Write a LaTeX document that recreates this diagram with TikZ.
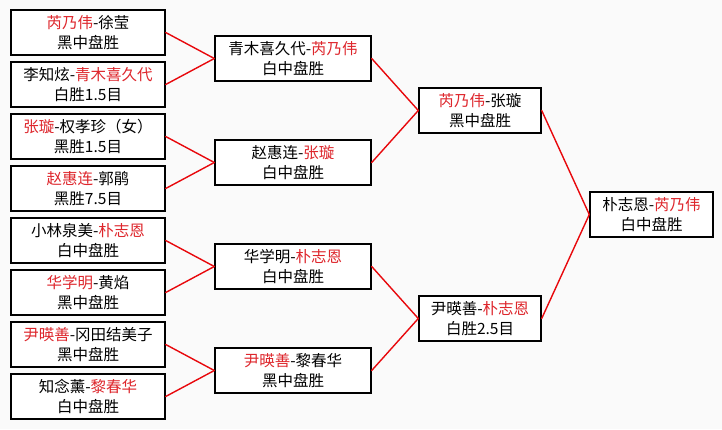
\documentclass[tikz,border=0pt]{standalone}
\usepackage{fontspec}
\setmainfont{Noto Sans CJK SC}
\usepackage{xcolor}
\usepackage{tikz}
\usetikzlibrary{calc}
\definecolor{winred}{RGB}{222,38,44}
\definecolor{linkred}{RGB}{232,8,12}
\definecolor{paper}{RGB}{250,250,250}
\newcommand{\win}[1]{\textcolor{winred}{#1}}

\begin{document}
\begin{tikzpicture}[x=1pt,y=-1pt,line cap=round,
  match/.style={draw=black,line width=1.4pt,fill=white,minimum height=45pt,
    align=center,inner sep=0pt,font=\fontsize{15.5}{20}\selectfont},
  link/.style={draw=linkred,line width=1.4pt}]
  \pgfmathsetmacro{\P}{52}     % row pitch
  \pgfmathsetmacro{\Y}{32.5}   % first row centre

  % frame
  \useasboundingbox[fill=paper] (0,0) rectangle (722,429);

  % first round
  \foreach \i/\txt in {1/{\win{芮乃伟}-徐莹\\黑中盘胜},
                       2/{李知炫-\win{青木喜久代}\\白胜1.5目},
                       3/{\win{张璇}-权孝珍（女）\\黑胜1.5目},
                       4/{\win{赵惠连}-郭鹃\\黑胜7.5目},
                       5/{小林泉美-\win{朴志恩}\\白中盘胜},
                       6/{\win{华学明}-黄焰\\黑中盘胜},
                       7/{\win{尹暎善}-冈田结美子\\黑中盘胜},
                       8/{知念薰-\win{黎春华}\\白中盘胜}}{
    \node[match,minimum width=154pt] (r1-\i) at (88,{\Y+\P*(\i-1)}) {\txt};
  }

  % second round
  \foreach \i/\txt in {1/{青木喜久代-\win{芮乃伟}\\白中盘胜},
                       2/{赵惠连-\win{张璇}\\白中盘胜},
                       3/{华学明-\win{朴志恩}\\白中盘胜},
                       4/{\win{尹暎善}-黎春华\\黑中盘胜}}{
    \node[match,minimum width=156pt] (r2-\i) at (293,{\Y+\P*(2*\i-1.5)}) {\txt};
  }

  % semifinals
  \node[match,minimum width=122pt] (r3-1) at (480,{\Y+\P*1.5}) {\win{芮乃伟}-张璇\\黑中盘胜};
  \node[match,minimum width=122pt] (r3-2) at (480,{\Y+\P*5.5}) {尹暎善-\win{朴志恩}\\白胜2.5目};

  % final
  \node[match,minimum width=123pt] (r4-1) at (651.5,{\Y+\P*3.5}) {朴志恩-\win{芮乃伟}\\白中盘胜};

  % links
  \foreach \i in {1,...,8}{
    \pgfmathtruncatemacro{\j}{(\i+1)/2}
    \draw[link] (r1-\i.east) -- (r2-\j.west);
  }
  \foreach \i in {1,...,4}{
    \pgfmathtruncatemacro{\j}{(\i+1)/2}
    \draw[link] (r2-\i.east) -- (r3-\j.west);
  }
  \draw[link] (r3-1.east) -- (r4-1.west);
  \draw[link] (r3-2.east) -- (r4-1.west);
\end{tikzpicture}
\end{document}
